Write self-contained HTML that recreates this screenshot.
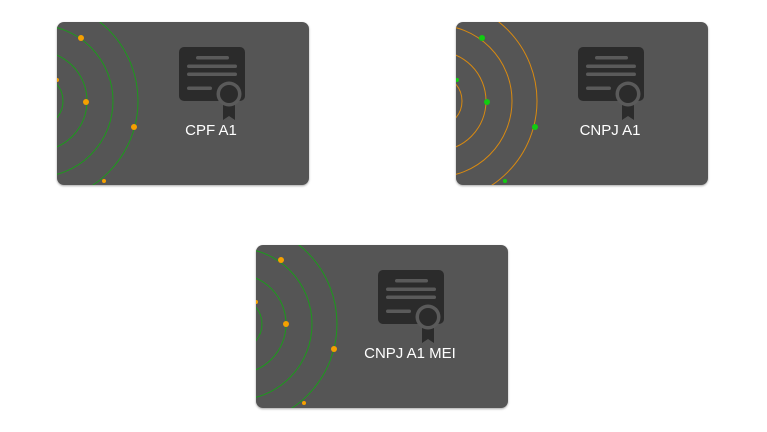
<!DOCTYPE html>
<html><head><style>
body{margin:0;width:767px;height:432px;background:#fff;position:relative;overflow:hidden;font-family:"Liberation Sans",sans-serif}
.card{position:absolute;width:252px;height:163px;background:#555;border-radius:7px;box-shadow:0 1px 2px rgba(0,0,0,.35);overflow:hidden}
.card svg{position:absolute;left:0;top:0}
.lbl{position:absolute;left:0;width:308px;top:100px;text-align:center;color:#fff;font-size:15px}
</style></head><body>
<svg width="0" height="0" style="position:absolute">
<defs>
<g id="ic">
<rect x="122" y="25" width="66" height="54" rx="5" fill="#2b2b2b"/>
<rect x="139" y="34" width="33" height="3.5" rx="1.75" fill="#5a5a5a"/>
<rect x="130" y="42.5" width="50" height="3.5" rx="1.75" fill="#5a5a5a"/>
<rect x="130" y="50.5" width="50" height="3.5" rx="1.75" fill="#5a5a5a"/>
<rect x="130" y="64.5" width="25" height="3.5" rx="1.75" fill="#5a5a5a"/>
<path d="M166 80 L166 98 L172 94 L178 98 L178 80 Z" fill="#2b2b2b"/>
<circle cx="172" cy="72" r="12.5" fill="#5a5a5a"/>
<circle cx="172" cy="72" r="9" fill="#2b2b2b"/>
</g>
</defs></svg>

<div class="card" style="left:57px;top:22px">
<svg width="252" height="163">
<g fill="none" stroke="#1c9a1c" stroke-width="1"><circle cx="-20" cy="79" r="26"/><circle cx="-20" cy="79" r="50"/><circle cx="-20" cy="79" r="76"/><circle cx="-20" cy="79" r="101"/></g>
<g fill="#f5a000"><circle cx="24" cy="16" r="3"/><circle cx="29" cy="80" r="3"/><circle cx="77" cy="105" r="3"/><circle cx="47" cy="159" r="2"/><circle cx="0" cy="58" r="2"/></g>
<use href="#ic"/>
</svg>
<div class="lbl">CPF A1</div>
</div>

<div class="card" style="left:456px;top:22px">
<svg width="252" height="163">
<g fill="none" stroke="#d98a10" stroke-width="1"><circle cx="-20" cy="79" r="26"/><circle cx="-20" cy="79" r="50"/><circle cx="-20" cy="79" r="76"/><circle cx="-20" cy="79" r="101"/></g>
<g fill="#11cc11"><circle cx="26" cy="16" r="3"/><circle cx="31" cy="80" r="3"/><circle cx="79" cy="105" r="3"/><circle cx="49" cy="159" r="2"/><circle cx="1" cy="58" r="2"/></g>
<use href="#ic"/>
</svg>
<div class="lbl">CNPJ A1</div>
</div>

<div class="card" style="left:256px;top:245px">
<svg width="252" height="163">
<g fill="none" stroke="#1c9a1c" stroke-width="1"><circle cx="-20" cy="79" r="26"/><circle cx="-20" cy="79" r="50"/><circle cx="-20" cy="79" r="76"/><circle cx="-20" cy="79" r="101"/></g>
<g fill="#f5a000"><circle cx="25" cy="15" r="3"/><circle cx="30" cy="79" r="3"/><circle cx="78" cy="104" r="3"/><circle cx="48" cy="158" r="2"/><circle cx="0" cy="57" r="2"/></g>
<use href="#ic"/>
</svg>
<div class="lbl">CNPJ A1 MEI</div>
</div>
</body></html>
